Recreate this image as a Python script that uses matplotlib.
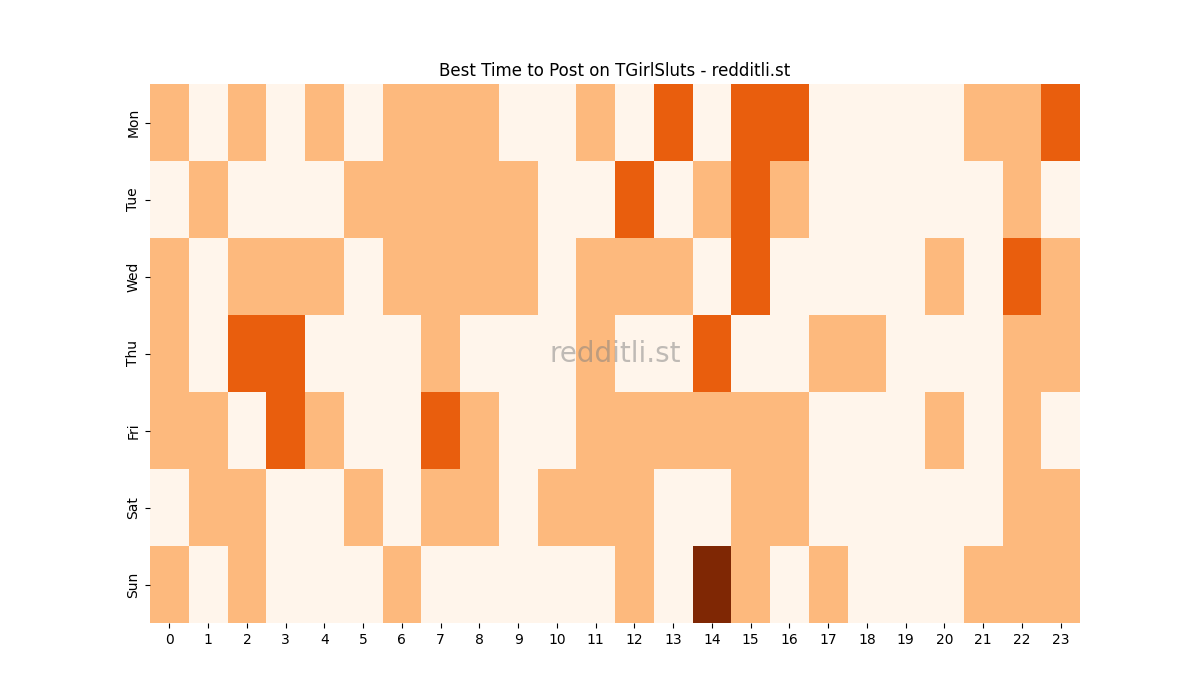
import numpy as np
import matplotlib
matplotlib.use("Agg")
import matplotlib.pyplot as plt
import seaborn as sns

# posting activity levels per day (rows) and hour (columns)
days = ["Mon", "Tue", "Wed", "Thu", "Fri", "Sat", "Sun"]
hours = list(range(24))

mon = [1, 0, 1, 0, 1, 0, 1, 1, 1, 0, 0, 1, 0, 2, 0, 2, 2, 0, 0, 0, 0, 1, 1, 2]
tue = [0, 1, 0, 0, 0, 1, 1, 1, 1, 1, 0, 0, 2, 0, 1, 2, 1, 0, 0, 0, 0, 0, 1, 0]
wed = [1, 0, 1, 1, 1, 0, 1, 1, 1, 1, 0, 1, 1, 1, 0, 2, 0, 0, 0, 0, 1, 0, 2, 1]
thu = [1, 0, 2, 2, 0, 0, 0, 1, 0, 0, 0, 1, 0, 0, 2, 0, 0, 1, 1, 0, 0, 0, 1, 1]
fri = [1, 1, 0, 2, 1, 0, 0, 2, 1, 0, 0, 1, 1, 1, 1, 1, 1, 0, 0, 0, 1, 0, 1, 0]
sat = [0, 1, 1, 0, 0, 1, 0, 1, 1, 0, 1, 1, 1, 0, 0, 1, 1, 0, 0, 0, 0, 0, 1, 1]
sun = [1, 0, 1, 0, 0, 0, 1, 0, 0, 0, 0, 0, 1, 0, 3, 1, 0, 1, 0, 0, 0, 1, 1, 1]

grid = np.array([mon, tue, wed, thu, fri, sat, sun])

fig, ax = plt.subplots(figsize=(12, 7), dpi=100)
sns.heatmap(grid, cmap="Oranges", vmin=0, vmax=3, cbar=False,
            xticklabels=hours, yticklabels=days, ax=ax)
ax.set_yticklabels(days, rotation=90, va="center")
ax.set_xticklabels(hours, rotation=0)
ax.set_title("Best Time to Post on TGirlSluts - redditli.st")

# watermark
ax.text(0.5, 0.5, "redditli.st", transform=ax.transAxes, fontsize=20,
        color="gray", alpha=0.5, ha="center", va="center")

fig.savefig("out.png")
